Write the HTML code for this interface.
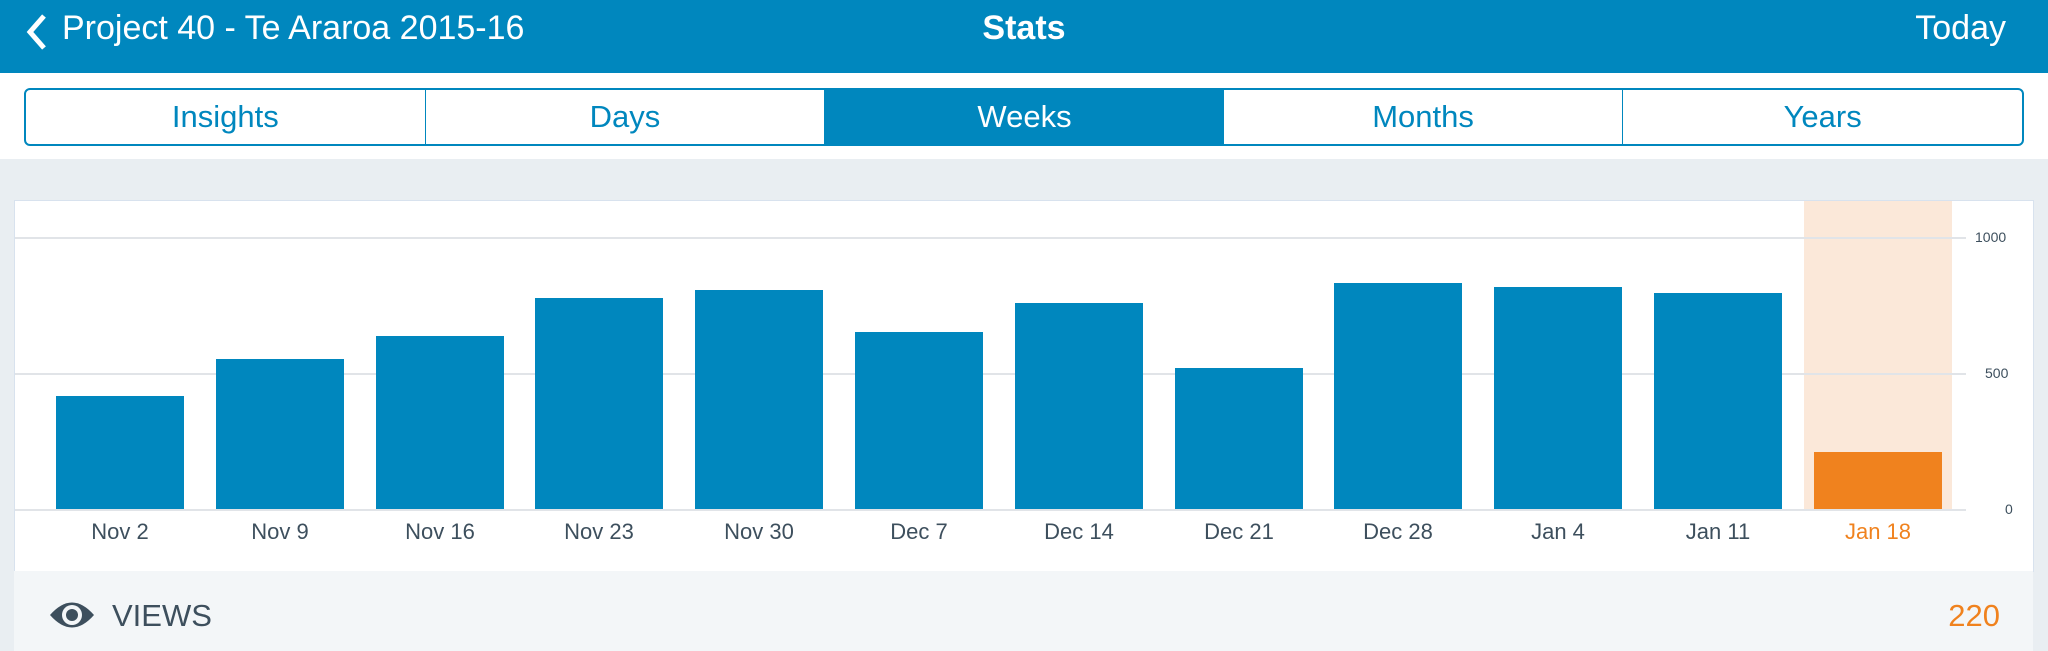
<!DOCTYPE html>
<html><head><meta charset="utf-8"><style>
body{margin:0;width:2048px;height:651px;overflow:hidden;background:#e9eef2;font-family:"Liberation Sans",sans-serif;position:relative}
.a{position:absolute}
</style></head><body>
<div class="a" style="left:0;top:0;width:2048px;height:73px;background:#0087be"></div>
<svg class="a" style="left:22px;top:12px" width="30" height="40"><polyline points="22,4 8,20 22,36" fill="none" stroke="#fff" stroke-width="5"/></svg>
<div class="a" style="left:62px;top:8px;font-size:34px;color:#fff;line-height:40px">Project 40 - Te Araroa 2015-16</div>
<div class="a" style="left:0;width:2048px;text-align:center;top:8px;font-size:34px;color:#fff;font-weight:bold;line-height:40px">Stats</div>
<div class="a" style="right:42px;top:8px;font-size:34px;color:#fff;line-height:40px">Today</div>
<div class="a" style="left:0;top:73px;width:2048px;height:86px;background:#fff"></div>
<div class="a" style="left:24px;top:88px;width:1996px;height:54px;border:2px solid #0087be;border-radius:6px;display:flex;overflow:hidden;font-size:31px;color:#0087be">
<div style="flex:1;text-align:center;line-height:54px;border-right:1px solid #0087be">Insights</div>
<div style="flex:1;text-align:center;line-height:54px;border-right:1px solid #0087be">Days</div>
<div style="flex:1;text-align:center;line-height:54px;background:#0087be;color:#fff">Weeks</div>
<div style="flex:1;text-align:center;line-height:54px;border-right:1px solid #0087be">Months</div>
<div style="flex:1;text-align:center;line-height:54px">Years</div>
</div>
<div class="a" style="left:14px;top:200px;width:2018px;height:371px;background:#fff;border:1px solid #d8e2ee;border-bottom:none"></div>
<div class="a" style="left:14px;top:571px;width:2019px;height:80px;background:#f3f6f8"></div>
<div class="a" style="left:1804px;top:201px;width:148px;height:309px;background:#fbe8d9"></div>
<div class="a" style="left:15px;top:237px;width:1951px;height:2px;background:#e1e4e8"></div>
<div class="a" style="left:15px;top:373px;width:1951px;height:2px;background:#e1e4e8"></div>
<div class="a" style="left:15px;top:509px;width:1951px;height:2px;background:#e1e4e8"></div>
<div class="a" style="left:1975px;top:229px;font-size:14px;color:#3d4f5d">1000</div>
<div class="a" style="left:1985px;top:365px;font-size:14px;color:#3d4f5d">500</div>
<div class="a" style="left:2005px;top:501px;font-size:14px;color:#3d4f5d">0</div>
<div class="a" style="left:56px;top:396px;width:128px;height:113px;background:#0087be"></div>
<div class="a" style="left:216px;top:359px;width:128px;height:150px;background:#0087be"></div>
<div class="a" style="left:376px;top:336px;width:128px;height:173px;background:#0087be"></div>
<div class="a" style="left:535px;top:298px;width:128px;height:211px;background:#0087be"></div>
<div class="a" style="left:695px;top:290px;width:128px;height:219px;background:#0087be"></div>
<div class="a" style="left:855px;top:332px;width:128px;height:177px;background:#0087be"></div>
<div class="a" style="left:1015px;top:303px;width:128px;height:206px;background:#0087be"></div>
<div class="a" style="left:1175px;top:368px;width:128px;height:141px;background:#0087be"></div>
<div class="a" style="left:1334px;top:283px;width:128px;height:226px;background:#0087be"></div>
<div class="a" style="left:1494px;top:287px;width:128px;height:222px;background:#0087be"></div>
<div class="a" style="left:1654px;top:293px;width:128px;height:216px;background:#0087be"></div>
<div class="a" style="left:1814px;top:452px;width:128px;height:57px;background:#f0821e"></div>
<div class="a" style="left:0;top:518px;font-size:22px;color:#3d4f5d;line-height:28px">
<span class="a" style="left:40px;width:160px;text-align:center">Nov 2</span>
<span class="a" style="left:200px;width:160px;text-align:center">Nov 9</span>
<span class="a" style="left:360px;width:160px;text-align:center">Nov 16</span>
<span class="a" style="left:519px;width:160px;text-align:center">Nov 23</span>
<span class="a" style="left:679px;width:160px;text-align:center">Nov 30</span>
<span class="a" style="left:839px;width:160px;text-align:center">Dec 7</span>
<span class="a" style="left:999px;width:160px;text-align:center">Dec 14</span>
<span class="a" style="left:1159px;width:160px;text-align:center">Dec 21</span>
<span class="a" style="left:1318px;width:160px;text-align:center">Dec 28</span>
<span class="a" style="left:1478px;width:160px;text-align:center">Jan 4</span>
<span class="a" style="left:1638px;width:160px;text-align:center">Jan 11</span>
<span class="a" style="left:1798px;width:160px;text-align:center;color:#f0821e">Jan 18</span>
</div>
<svg class="a" style="left:48px;top:598px" width="48" height="34" viewBox="0 0 48 34"><path d="M2,17 Q24,-8 46,17 Q24,42 2,17Z" fill="#3d4f5d"/><circle cx="24" cy="17" r="10" fill="#f3f6f8"/><circle cx="24" cy="17" r="6" fill="#3d4f5d"/></svg>
<div class="a" style="left:112px;top:596px;font-size:31px;color:#3d4f5d;line-height:40px">VIEWS</div>
<div class="a" style="right:48px;top:596px;font-size:31px;color:#f0821e;line-height:40px">220</div>
</body></html>
